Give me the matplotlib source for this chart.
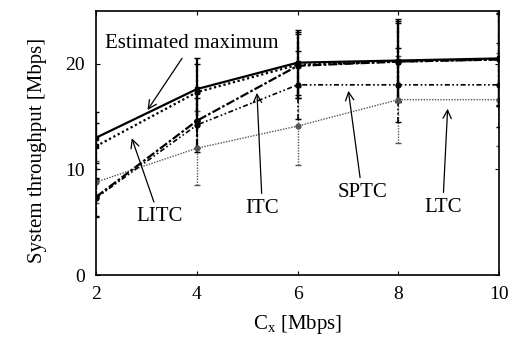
import matplotlib.pyplot as plt
import numpy as np

plt.rcParams['font.family'] = ['Liberation Serif', 'DejaVu Serif']
plt.rcParams['mathtext.fontset'] = 'custom'
plt.rcParams['mathtext.rm'] = 'Liberation Serif'

cx = [2, 4, 6, 8, 10]

est_max = [13.0, 17.6, 20.1, 20.3, 20.5]
litc = [12.2, 17.3, 19.9, 20.2, 20.4]
itc = [7.4, 14.6, 19.8, 20.2, 20.4]
sptc = [7.3, 14.2, 18.0, 18.0, 18.0]
ltc = [8.8, 12.0, 14.1, 16.6, 16.6]

est_err = [2.4, 2.9, 3.1, 3.9, 4.5]
litc_err = [2.2, 2.7, 3.1, 3.8, 4.4]
itc_err = [1.8, 2.6, 3.0, 3.7, 4.3]
sptc_err = [1.8, 2.6, 3.2, 3.5, 4.0]
ltc_err = [2.0, 3.5, 3.7, 4.1, 4.4]

fig = plt.figure(figsize=(5.31, 3.40), dpi=100)
ax = fig.add_axes([0.181, 0.191, 0.759, 0.777])

series = [
    (ltc, ltc_err, '#555555', (0, (1, 1)), 1.0, 'o'),
    (sptc, sptc_err, 'black', (0, (3, 1.5, 1, 1.5, 1, 1.5)), 1.2, 'o'),
    (itc, itc_err, 'black', (0, (4, 1, 1.2, 1)), 1.6, 'o'),
    (litc, litc_err, 'black', (0, (1, 1.2)), 1.6, 's'),
    (est_max, est_err, 'black', '-', 1.6, 's'),
]
for y, e, c, ls, lw, m in series:
    eb = ax.errorbar(cx, y, yerr=e, color=c, linestyle=ls, linewidth=lw,
                     marker=m, markersize=3.5, capsize=2, elinewidth=lw,
                     capthick=1)
    eb[2][0].set_linestyle(ls)

ax.set_xlim(2, 10)
ax.set_ylim(0, 25)
ax.set_xticks([2, 4, 6, 8, 10])
ax.set_yticks([0, 10, 20])
ax.tick_params(direction='in', top=True, right=True, length=3,
               labelsize=14, pad=8)
for s in ax.spines.values():
    s.set_linewidth(1.2)

ax.set_xlabel('C$_\\mathrm{x}$ [Mbps]', fontsize=15, labelpad=7)
ax.set_ylabel('System throughput [Mbps]', fontsize=15)
ax.yaxis.set_label_coords(-0.123, 0.47)

arrow = dict(arrowstyle='->', color='black', lw=0.9)
ax.annotate('Estimated maximum', xy=(2.99, 15.4), xytext=(3.9, 21.9),
            ha='center', va='center', fontsize=15, arrowprops=arrow)
ax.annotate('LITC', xy=(2.69, 13.2), xytext=(3.25, 5.5),
            ha='center', va='center', fontsize=15, arrowprops=arrow)
ax.annotate('ITC', xy=(5.19, 17.5), xytext=(5.3, 6.3),
            ha='center', va='center', fontsize=15, arrowprops=arrow)
ax.annotate('SPTC', xy=(7.0, 17.7), xytext=(7.28, 7.8),
            ha='center', va='center', fontsize=15, arrowprops=arrow)
ax.annotate('LTC', xy=(8.98, 16.0), xytext=(8.88, 6.4),
            ha='center', va='center', fontsize=15, arrowprops=arrow)

fig.savefig('out.png', dpi=100)
